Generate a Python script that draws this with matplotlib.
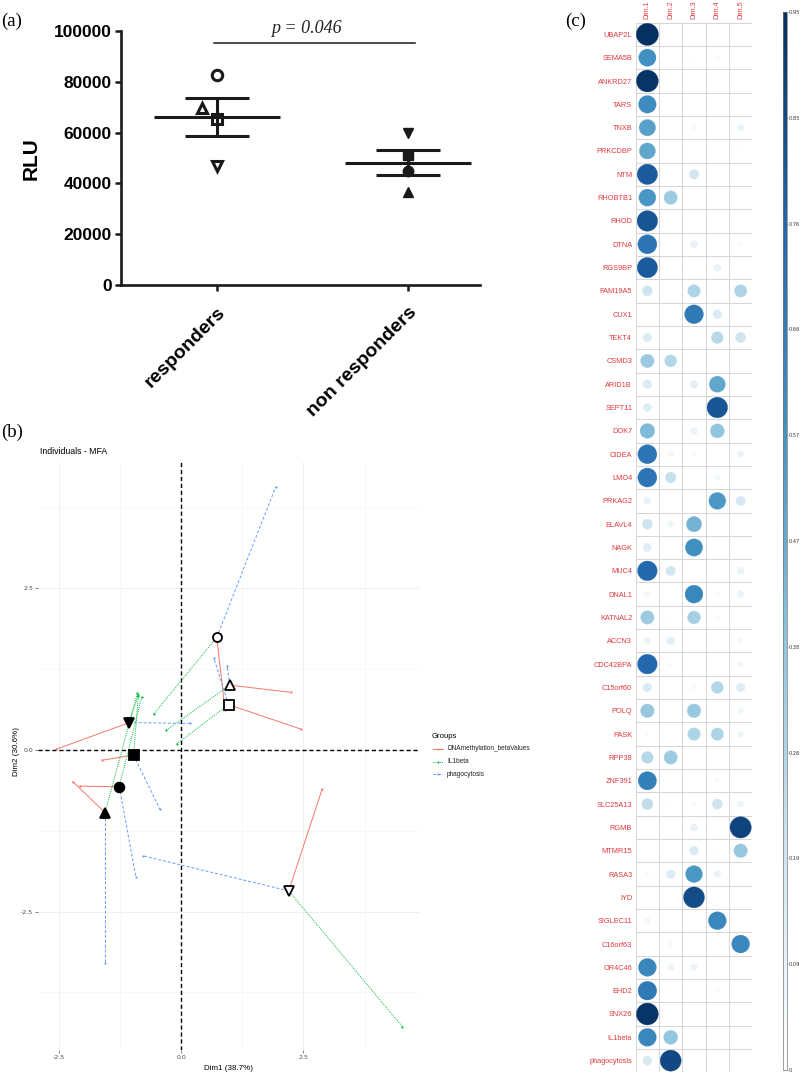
import numpy as np
import matplotlib
matplotlib.use('Agg')
import matplotlib.pyplot as plt
from matplotlib.colors import LinearSegmentedColormap, Normalize
from matplotlib.patches import Circle
from matplotlib.cm import ScalarMappable

# ---------------- data ----------------
# panel (a)
groups_a = ['responders', 'non responders']
resp_rlu = [82500, 69500, 65500, 47000]
resp_markers = ['o', '^', 's', 'v']
resp_offset = [0.0, -0.08, 0.0, 0.0]
nonresp_rlu = [60000, 51000, 45000, 36500]
nonresp_markers = ['v', 's', 'o', '^']
yticks_a = [0, 20000, 40000, 60000, 80000, 100000]
p_text = 'p = 0.046'

# panel (b) individuals (same order/markers as panel a: responders open, non-responders filled)
ind_x = [0.73, 1.00, 0.97, 2.20, -1.06, -0.97, -1.26, -1.55]
ind_y = [1.74, 1.00, 0.70, -2.18, 0.42, -0.08, -0.57, -0.97]
ind_markers = ['o', '^', 's', 'v', 'v', 's', 'o', '^']
ind_filled = [False, False, False, False, True, True, True, True]
dna_x = [0.90, 2.24, 2.45, 2.88, -2.55, -1.61, -2.07, -2.21]
dna_y = [0.61, 0.89, 0.32, -0.61, 0.01, -0.16, -0.56, -0.49]
il1_x = [-0.56, -0.31, -0.09, 4.52, -0.87, -0.87, -0.80, -0.89]
il1_y = [0.55, 0.30, 0.09, -4.28, 0.85, 0.84, 0.82, 0.88]
phago_x = [1.93, 0.94, 0.67, -0.77, 0.18, -0.43, -0.92, -1.55]
phago_y = [4.06, 1.30, 1.42, -1.64, 0.41, -0.92, -1.97, -3.30]
group_names = ['DNAmethylation_betaValues', 'IL1beta', 'phagocytosis']
ticks_b = [-2.5, 0.0, 2.5]
tick_labels_b = ['-2.5', '0.0', '2.5']

# panel (c)
genes = ['UBAP2L', 'SEMA5B', 'ANKRD27', 'TARS', 'TNXB', 'PRKCDBP', 'NTM', 'RHOBTB1',
         'RHOD', 'DTNA', 'RGS9BP', 'FAM19A5', 'CUX1', 'TEKT4', 'CSMD3', 'ARID1B',
         'SEPT11', 'DOK7', 'CIDEA', 'LMO4', 'PRKAG2', 'ELAVL4', 'NAGK', 'MUC4',
         'DNAL1', 'KATNAL2', 'ACCN3', 'CDC42BPA', 'C15orf60', 'POLQ', 'PASK', 'RPP38',
         'ZNF391', 'SLC25A13', 'RGMB', 'MTMR15', 'RASA3', 'IYD', 'SIGLEC11', 'C16orf63',
         'OR4C46', 'EHD2', 'SNX26', 'IL1beta', 'phagocytosis']
dims = ['Dim.1', 'Dim.2', 'Dim.3', 'Dim.4', 'Dim.5']
dim1 = [0.95, 0.58, 0.93, 0.60, 0.52, 0.50, 0.80, 0.56, 0.82, 0.70, 0.80, 0.20, 0.0, 0.15, 0.35,
        0.15, 0.13, 0.42, 0.70, 0.70, 0.10, 0.20, 0.13, 0.75, 0.06, 0.35, 0.09, 0.75, 0.15, 0.36,
        0.03, 0.27, 0.65, 0.24, 0.0, 0.01, 0.03, 0.02, 0.06, 0.01, 0.62, 0.68, 0.93, 0.62, 0.16]
dim2 = [0.0, 0.0, 0.0, 0.0, 0.02, 0.0, 0.005, 0.35, 0.0, 0.01, 0.0, 0.0, 0.0, 0.0, 0.28,
        0.0, 0.005, 0.0, 0.06, 0.22, 0.0, 0.07, 0.0, 0.18, 0.0, 0.02, 0.12, 0.03, 0.02, 0.0,
        0.01, 0.35, 0.005, 0.02, 0.0, 0.0, 0.15, 0.005, 0.0, 0.04, 0.08, 0.0, 0.0, 0.38, 0.86]
dim3 = [0.0, 0.02, 0.0, 0.01, 0.04, 0.0, 0.18, 0.0, 0.01, 0.10, 0.0, 0.30, 0.68, 0.0, 0.01,
        0.12, 0.0, 0.10, 0.04, 0.0, 0.01, 0.45, 0.58, 0.0, 0.62, 0.32, 0.0, 0.01, 0.04, 0.36,
        0.30, 0.0, 0.0, 0.04, 0.10, 0.15, 0.55, 0.85, 0.0, 0.0, 0.08, 0.01, 0.0, 0.0, 0.0]
dim4 = [0.0, 0.03, 0.0, 0.02, 0.0, 0.0, 0.0, 0.0, 0.0, 0.01, 0.10, 0.0, 0.15, 0.27, 0.0,
        0.50, 0.82, 0.38, 0.0, 0.06, 0.55, 0.0, 0.01, 0.01, 0.03, 0.03, 0.0, 0.0, 0.28, 0.01,
        0.30, 0.0, 0.04, 0.20, 0.0, 0.02, 0.09, 0.01, 0.62, 0.0, 0.0, 0.03, 0.0, 0.0, 0.0]
dim5 = [0.0, 0.0, 0.0, 0.0, 0.08, 0.02, 0.0, 0.005, 0.0, 0.03, 0.0, 0.30, 0.01, 0.20, 0.0,
        0.01, 0.0, 0.0, 0.08, 0.0, 0.17, 0.005, 0.0, 0.10, 0.09, 0.01, 0.05, 0.06, 0.14, 0.06,
        0.07, 0.01, 0.005, 0.08, 0.88, 0.36, 0.0, 0.0, 0.0, 0.62, 0.01, 0.0, 0.0, 0.0, 0.0]
cbar_ticks = [0, 0.095, 0.19, 0.285, 0.38, 0.475, 0.57, 0.665, 0.76, 0.855, 0.95]
cbar_labels = ['0', '0.09', '0.19', '0.28', '0.38', '0.47', '0.57', '0.66', '0.76', '0.85', '0.95']

# ---------------- figure ----------------
W, H = 800, 1077
fig = plt.figure(figsize=(W / 100, H / 100), dpi=100)


def px_axes(l, t, r, b, **kw):
    return fig.add_axes([l / W, 1 - b / H, (r - l) / W, (b - t) / H], **kw)


ov = px_axes(0, 0, W, H)
ov.set_xlim(0, W)
ov.set_ylim(H, 0)
ov.axis('off')

serif = 'Liberation Serif'
sans = 'Liberation Sans'
ov.text(1, 21, '(a)', fontsize=13.5, fontfamily=serif, ha='left', va='center')
ov.text(1, 432, '(b)', fontsize=13.5, fontfamily=serif, ha='left', va='center')
ov.text(565, 21, '(c)', fontsize=13.5, fontfamily=serif, ha='left', va='center')

# ---------------- panel (a) ----------------
ink = '#1a1a1a'
ax_a = px_axes(121, 31, 480, 285)
ax_a.set_xlim(-0.503, 1.377)
ax_a.set_ylim(0, 100000)
for s in ['top', 'right']:
    ax_a.spines[s].set_visible(False)
for s in ['left', 'bottom']:
    ax_a.spines[s].set_linewidth(1.9)
    ax_a.spines[s].set_color(ink)
ax_a.set_yticks(yticks_a)
ax_a.set_yticklabels([str(v) for v in yticks_a], fontfamily=sans, fontweight='bold', fontsize=12.5)
ax_a.set_xticks([0, 1])
ax_a.set_xticklabels(groups_a, rotation=45, ha='right', rotation_mode='anchor',
                     fontfamily=sans, fontweight='bold', fontsize=14)
ax_a.tick_params(axis='y', length=4.5, width=1.8, pad=2, color=ink)
ax_a.tick_params(axis='x', length=4.5, width=1.8, pad=9, color=ink)
ov.text(31, 159, 'RLU', rotation=90, ha='center', va='center', fontfamily=sans,
        fontweight='bold', fontsize=15)

for i, vals in enumerate([resp_rlu, nonresp_rlu]):
    v = np.array(vals, dtype=float)
    m = v.mean()
    sem = v.std(ddof=1) / np.sqrt(len(v))
    ax_a.hlines(m, i - 0.33, i + 0.33, color=ink, lw=2.2, zorder=2)
    ax_a.hlines([m - sem, m + sem], i - 0.167, i + 0.167, color=ink, lw=2.2, zorder=2)
    ax_a.vlines(i, m - sem, m + sem, color=ink, lw=2.2, zorder=2)

for v, mk, off in zip(resp_rlu, resp_markers, resp_offset):
    ax_a.plot(0 + off, v, marker=mk, ms=7.5, mfc='none', mec=ink, mew=2.2, zorder=3)
for v, mk in zip(nonresp_rlu, nonresp_markers):
    ax_a.plot(1, v, marker=mk, ms=7.5, mfc=ink, mec=ink, mew=1, zorder=3)

ax_a.plot([-0.015, 1.035], [95300, 95300], color=ink, lw=1.1, clip_on=False)
ax_a.text(0.466, 101000, p_text, fontfamily=serif, fontstyle='italic', fontsize=13,
          ha='center', va='center', color='#222', clip_on=False)

# ---------------- panel (b) ----------------
red, green, blue = '#F8766D', '#00BA38', '#619CFF'
ax_b = px_axes(38, 462, 420, 1050)
ax_b.set_xlim(-2.92, 4.88)
ax_b.set_ylim(-4.64, 4.45)
for s in ax_b.spines.values():
    s.set_visible(False)
for xv in [-2.5, 0, 2.5]:
    ax_b.axvline(xv, color='#EEEEEE', lw=0.6, zorder=0)
for xv in [-1.25, 1.25, 3.75]:
    ax_b.axvline(xv, color='#F6F6F6', lw=0.5, zorder=0)
for yv in [-2.5, 0, 2.5]:
    ax_b.axhline(yv, color='#EEEEEE', lw=0.6, zorder=0)
for yv in [-3.75, -1.25, 1.25, 3.75]:
    ax_b.axhline(yv, color='#F6F6F6', lw=0.5, zorder=0)
ax_b.axvline(0, color='black', lw=1.0, ls=(0, (3, 2)), zorder=1)
ax_b.axhline(0, color='black', lw=1.0, ls=(0, (3, 2)), zorder=1)
ax_b.set_xticks(ticks_b)
ax_b.set_xticklabels(tick_labels_b)
ax_b.set_yticks(ticks_b)
ax_b.set_yticklabels(tick_labels_b)
ax_b.tick_params(labelsize=4.5, labelcolor='#4D4D4D', length=2, width=0.5, color='#555', pad=1.5)

for i in range(len(ind_x)):
    ax_b.plot([ind_x[i], dna_x[i]], [ind_y[i], dna_y[i]], color=red, lw=0.7, ls='-', zorder=2)
    ax_b.plot([ind_x[i], il1_x[i]], [ind_y[i], il1_y[i]], color=green, lw=0.7, ls=(0, (1, 1.2)), zorder=2)
    ax_b.plot([ind_x[i], phago_x[i]], [ind_y[i], phago_y[i]], color=blue, lw=0.7, ls=(0, (3, 2)), zorder=2)
ax_b.scatter(dna_x, dna_y, s=2.5, color=red, zorder=3, linewidths=0)
ax_b.scatter(il1_x, il1_y, s=2.5, color=green, zorder=3, linewidths=0)
ax_b.scatter(phago_x, phago_y, s=2.5, color=blue, zorder=3, linewidths=0)
for x, y, mk, f in zip(ind_x, ind_y, ind_markers, ind_filled):
    ax_b.plot(x, y, marker=mk, ms=6.5 if not f else 7, mfc='black' if f else 'white',
              mec='black', mew=1.3, zorder=4)

ov.text(40, 452, 'Individuals - MFA', fontfamily=sans, fontsize=6.3, ha='left', va='center')
ov.text(229, 1069, 'Dim1 (38.7%)', fontfamily=sans, fontsize=5.8, ha='center', va='center')
ov.text(16, 751, 'Dim2 (30.6%)', fontfamily=sans, fontsize=5.8, ha='center', va='center', rotation=90)

# legend
ov.text(432, 737, 'Groups', fontfamily=sans, fontsize=5.6, ha='left', va='center')
leg_styles = [(red, '-'), (green, (0, (1, 1.2))), (blue, (0, (3, 2)))]
for k, (name, (c, ls)) in enumerate(zip(group_names, leg_styles)):
    yy = 749 + k * 12.5
    ov.plot([433, 443], [yy, yy], color=c, lw=0.7, ls=ls)
    ov.plot([438], [yy], marker='o', ms=1.5, color=c, mew=0)
    ov.text(447, yy, name, fontfamily=sans, fontsize=4.7, ha='left', va='center', color='#222')

# ---------------- panel (c) ----------------
cmap = LinearSegmentedColormap.from_list(
    'corr_pos', ['#FFFFFF', '#D1E5F0', '#92C5DE', '#4393C3', '#2166AC', '#053061'])
vmax = 0.95
norm = Normalize(0, vmax)
tl_red = '#E0393E'
ax_c = px_axes(635.7, 22.7, 752.3, 1072.3)
ax_c.set_xlim(0.5, 5.5)
ax_c.set_ylim(len(genes) + 0.5, 0.5)
for s in ax_c.spines.values():
    s.set_visible(False)
ax_c.vlines(np.arange(0.5, 6.0, 1.0), 0.5, len(genes) + 0.5, color='#CFCFCF', lw=0.6, zorder=1)
ax_c.hlines(np.arange(0.5, len(genes) + 1.0, 1.0), 0.5, 5.5, color='#CFCFCF', lw=0.6, zorder=1)
mat = np.array([dim1, dim2, dim3, dim4, dim5]).T
for r in range(mat.shape[0]):
    for c in range(mat.shape[1]):
        v = mat[r, c]
        if v <= 0:
            continue
        rad = 0.475 * np.sqrt(v / vmax)
        col = cmap(norm(v))
        ax_c.add_patch(Circle((c + 1, r + 1), rad, facecolor=col, edgecolor=col, lw=0.2, zorder=2))
ax_c.xaxis.tick_top()
ax_c.set_xticks(range(1, 6))
ax_c.set_xticklabels(dims, rotation=90, fontfamily=sans, fontsize=5, color=tl_red)
ax_c.set_yticks(range(1, len(genes) + 1))
ax_c.set_yticklabels(genes, fontfamily=sans, fontsize=5.3, color=tl_red)
ax_c.tick_params(length=0, pad=2.5)

cax = px_axes(782.5, 12, 786.5, 1070)
cb = fig.colorbar(ScalarMappable(norm=norm, cmap=cmap), cax=cax)
cb.set_ticks(cbar_ticks)
cb.set_ticklabels(cbar_labels)
cb.outline.set_edgecolor('#777777')
cb.outline.set_linewidth(0.5)
cax.tick_params(labelsize=3.6, length=1.0, width=0.4, pad=0.5, labelcolor='#333', color='#555')

fig.savefig('out.png', dpi=100, facecolor='white')
